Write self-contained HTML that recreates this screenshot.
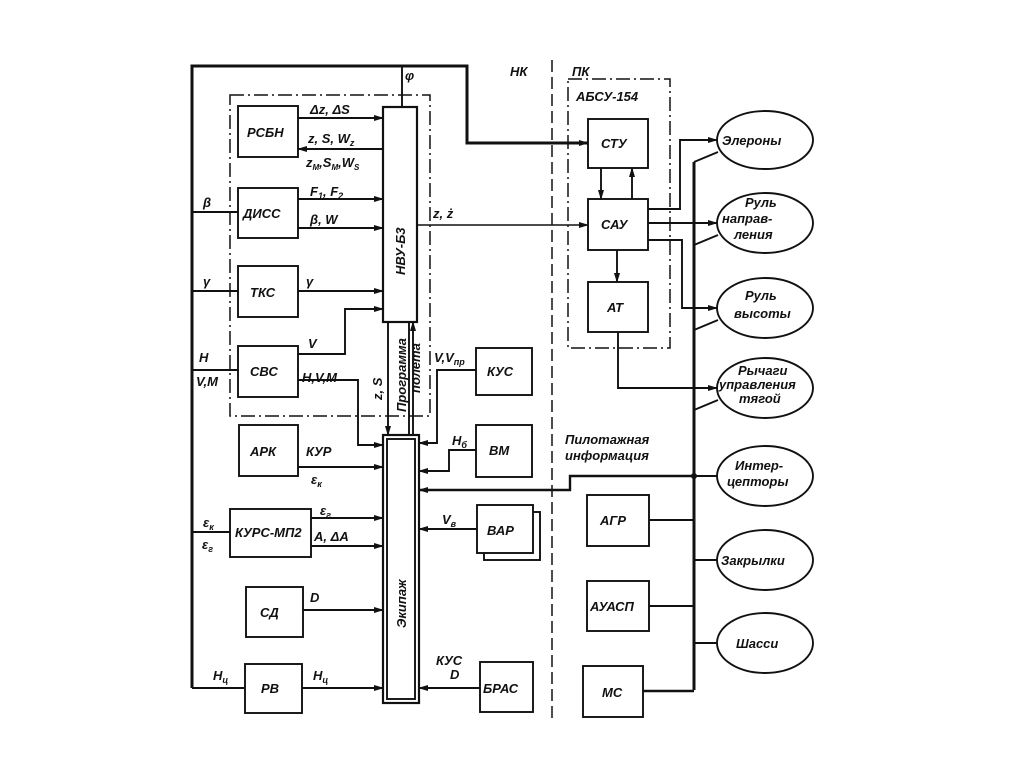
<!DOCTYPE html>
<html><head><meta charset="utf-8"><style>
body{margin:0;background:#fff}
svg{display:block}
text{font-family:"Liberation Sans","DejaVu Sans",sans-serif;font-style:italic;font-size:13px;fill:#111;font-weight:bold}
</style></head><body>
<svg width="1024" height="767" viewBox="0 0 1024 767" xmlns="http://www.w3.org/2000/svg">
<defs><marker id="a" markerWidth="10" markerHeight="6" refX="9" refY="3" orient="auto" markerUnits="userSpaceOnUse"><path d="M0,0 L10,3 L0,6 Z" fill="#111"/></marker></defs>
<g stroke="#111" fill="none" stroke-width="1.9">
<line x1="552" y1="60" x2="552" y2="718" stroke-dasharray="12,5" stroke-width="1.5"/>
<rect x="230" y="95" width="200" height="321" stroke-dasharray="14,4,2,4" stroke-width="1.5"/>
<rect x="568" y="79" width="102" height="269" stroke-dasharray="14,4,2,4" stroke-width="1.5"/>
<path d="M192,688 V66 H467 V143 H588" stroke-width="3" marker-end="url(#a)"/>
<line x1="402" y1="66" x2="402" y2="107"/>
<rect x="238" y="106" width="60" height="51"/>
<rect x="383" y="107" width="34" height="215" stroke-width="2.2"/>
<rect x="238" y="188" width="60" height="50"/>
<rect x="238" y="266" width="60" height="51"/>
<rect x="238" y="346" width="60" height="51"/>
<rect x="239" y="425" width="59" height="51"/>
<rect x="230" y="509" width="81" height="48"/>
<rect x="246" y="587" width="57" height="50"/>
<rect x="245" y="664" width="57" height="49"/>
<rect x="383" y="435" width="36" height="268" stroke-width="2.2"/>
<rect x="387" y="439" width="28" height="260"/>
<rect x="476" y="348" width="56" height="47"/>
<rect x="476" y="425" width="56" height="52"/>
<rect x="484" y="512" width="56" height="48"/>
<rect x="477" y="505" width="56" height="48" fill="#fff"/>
<rect x="480" y="662" width="53" height="50"/>
<rect x="588" y="119" width="60" height="49"/>
<rect x="588" y="199" width="60" height="51"/>
<rect x="588" y="282" width="60" height="50"/>
<rect x="587" y="495" width="62" height="51"/>
<rect x="587" y="581" width="62" height="50"/>
<rect x="583" y="666" width="60" height="51"/>
<ellipse cx="765" cy="140" rx="48" ry="29"/>
<ellipse cx="765" cy="223" rx="48" ry="30"/>
<ellipse cx="765" cy="308" rx="48" ry="30"/>
<ellipse cx="765" cy="388" rx="48" ry="30"/>
<ellipse cx="765" cy="476" rx="48" ry="30"/>
<ellipse cx="765" cy="560" rx="48" ry="30"/>
<ellipse cx="765" cy="643" rx="48" ry="30"/>
<line x1="192" y1="212" x2="238" y2="212"/>
<line x1="192" y1="291" x2="238" y2="291"/>
<line x1="192" y1="370" x2="238" y2="370"/>
<line x1="192" y1="532" x2="230" y2="532"/>
<line x1="192" y1="688" x2="245" y2="688"/>
<line x1="298" y1="118" x2="383" y2="118" marker-end="url(#a)"/>
<line x1="383" y1="149" x2="298" y2="149" marker-end="url(#a)"/>
<line x1="298" y1="199" x2="383" y2="199" marker-end="url(#a)"/>
<line x1="298" y1="228" x2="383" y2="228" marker-end="url(#a)"/>
<line x1="298" y1="291" x2="383" y2="291" marker-end="url(#a)"/>
<path d="M298,354 H345 V309 H383" marker-end="url(#a)"/>
<path d="M417,225 H588" stroke-width="1.5" marker-end="url(#a)"/>
<path d="M298,380 H358 V445 H383" marker-end="url(#a)"/>
<line x1="388" y1="322" x2="388" y2="435" marker-end="url(#a)"/>
<line x1="409" y1="322" x2="409" y2="435"/>
<line x1="413" y1="435" x2="413" y2="322" marker-end="url(#a)"/>
<line x1="298" y1="467" x2="383" y2="467" marker-end="url(#a)"/>
<line x1="311" y1="518" x2="383" y2="518" marker-end="url(#a)"/>
<line x1="311" y1="546" x2="383" y2="546" marker-end="url(#a)"/>
<line x1="303" y1="610" x2="383" y2="610" marker-end="url(#a)"/>
<line x1="302" y1="688" x2="383" y2="688" marker-end="url(#a)"/>
<path d="M476,370 H437 V443 H419" marker-end="url(#a)"/>
<path d="M476,450 H449 V471 H419" marker-end="url(#a)"/>
<path d="M695,476 H570 V490 H419" stroke-width="2.4" marker-end="url(#a)"/>
<line x1="477" y1="529" x2="419" y2="529" marker-end="url(#a)"/>
<line x1="480" y1="688" x2="419" y2="688" marker-end="url(#a)"/>
<line x1="601" y1="168" x2="601" y2="199" marker-end="url(#a)"/>
<line x1="632" y1="199" x2="632" y2="168" marker-end="url(#a)"/>
<line x1="617" y1="250" x2="617" y2="282" marker-end="url(#a)"/>
<path d="M648,209 H680 V140 H717" marker-end="url(#a)"/>
<line x1="648" y1="223" x2="717" y2="223" marker-end="url(#a)"/>
<path d="M648,240 H682 V308 H717" marker-end="url(#a)"/>
<path d="M618,332 V388 H717" marker-end="url(#a)"/>
<path d="M694,162 V690" stroke-width="3"/>
<line x1="694" y1="162" x2="718" y2="152"/>
<line x1="694" y1="245" x2="718" y2="235"/>
<line x1="694" y1="330" x2="718" y2="320"/>
<line x1="694" y1="410" x2="718" y2="400"/>
<line x1="694" y1="476" x2="717" y2="476"/>
<line x1="694" y1="560" x2="717" y2="560"/>
<line x1="694" y1="643" x2="717" y2="643"/>
<line x1="649" y1="520" x2="694" y2="520"/>
<line x1="649" y1="606" x2="694" y2="606"/>
<line x1="643" y1="691" x2="694" y2="691" stroke-width="2.4"/>
</g>
<circle cx="694" cy="476" r="3" fill="#111"/>
<text x="405" y="80" font-size="17">φ</text>
<text x="510" y="76">НК</text>
<text x="572" y="76">ПК</text>
<text x="576" y="101" font-size="12">АБСУ-154</text>
<text x="247" y="137" font-size="12">РСБН</text>
<text x="310" y="114">Δz, ΔS</text>
<text x="308" y="143">z, S, W<tspan font-size="9" dy="3">z</tspan></text>
<text x="306" y="167" font-size="12">z<tspan font-size="8" dy="3">M</tspan><tspan dy="-3">,S</tspan><tspan font-size="8" dy="3">M</tspan><tspan dy="-3">,W</tspan><tspan font-size="8" dy="3">S</tspan></text>
<text x="243" y="218" font-size="13">ДИСС</text>
<text x="310" y="196">F<tspan font-size="9" dy="3">1</tspan><tspan dy="-3">, F</tspan><tspan font-size="9" dy="3">2</tspan></text>
<text x="310" y="224">β, W</text>
<text x="203" y="207" font-size="15">β</text>
<text x="250" y="297">ТКС</text>
<text x="203" y="286" font-size="15">γ</text>
<text x="306" y="286" font-size="15">γ</text>
<text x="250" y="376">СВС</text>
<text x="308" y="348">V</text>
<text x="199" y="362">H</text>
<text x="196" y="386">V,M</text>
<text x="302" y="382">H,V,M</text>
<text x="433" y="218">z, ż</text>
<text transform="translate(405,275) rotate(-90)" font-size="13">НВУ-Б3</text>
<text transform="translate(382,400) rotate(-90)" font-size="12">z, S</text>
<text transform="translate(406,412) rotate(-90)" font-size="11">Программа</text>
<text transform="translate(420,393) rotate(-90)" font-size="11">полета</text>
<text transform="translate(406,628) rotate(-90)" font-size="15">Экипаж</text>
<text x="487" y="376">КУС</text>
<text x="434" y="362" font-size="12">V,V<tspan font-size="9" dy="3">пр</tspan></text>
<text x="250" y="456">АРК</text>
<text x="306" y="456">КУР</text>
<text x="311" y="484">ε<tspan font-size="9" dy="3">к</tspan></text>
<text x="235" y="537" font-size="12">КУРС-МП2</text>
<text x="320" y="515">ε<tspan font-size="9" dy="3">г</tspan></text>
<text x="314" y="541">А, ΔА</text>
<text x="203" y="527">ε<tspan font-size="9" dy="3">к</tspan></text>
<text x="202" y="549">ε<tspan font-size="9" dy="3">г</tspan></text>
<text x="260" y="617">СД</text>
<text x="310" y="602">D</text>
<text x="261" y="693">РВ</text>
<text x="213" y="680">H<tspan font-size="9" dy="3">ц</tspan></text>
<text x="313" y="680">H<tspan font-size="9" dy="3">ц</tspan></text>
<text x="489" y="455">ВМ</text>
<text x="452" y="445">H<tspan font-size="9" dy="3">б</tspan></text>
<text x="487" y="535">ВАР</text>
<text x="442" y="524">V<tspan font-size="9" dy="3">в</tspan></text>
<text x="483" y="693" font-size="12">БРАС</text>
<text x="436" y="665">КУС</text>
<text x="450" y="679">D</text>
<text x="601" y="148">СТУ</text>
<text x="601" y="229">САУ</text>
<text x="607" y="312">АТ</text>
<text x="600" y="525">АГР</text>
<text x="590" y="611" font-size="12">АУАСП</text>
<text x="602" y="697">МС</text>
<text x="565" y="444" font-size="13">Пилотажная</text>
<text x="565" y="460" font-size="13">информация</text>
<text x="722" y="145" font-size="13">Элероны</text>
<text x="745" y="207">Руль</text>
<text x="722" y="223" font-size="13">направ-</text>
<text x="734" y="239">ления</text>
<text x="745" y="300">Руль</text>
<text x="734" y="318">высоты</text>
<text x="738" y="375" font-size="12">Рычаги</text>
<text x="719" y="389" font-size="11">управления</text>
<text x="739" y="403" font-size="12">тягой</text>
<text x="735" y="470">Интер-</text>
<text x="727" y="486">цепторы</text>
<text x="721" y="565">Закрылки</text>
<text x="736" y="648">Шасси</text>
</svg>
</body></html>
